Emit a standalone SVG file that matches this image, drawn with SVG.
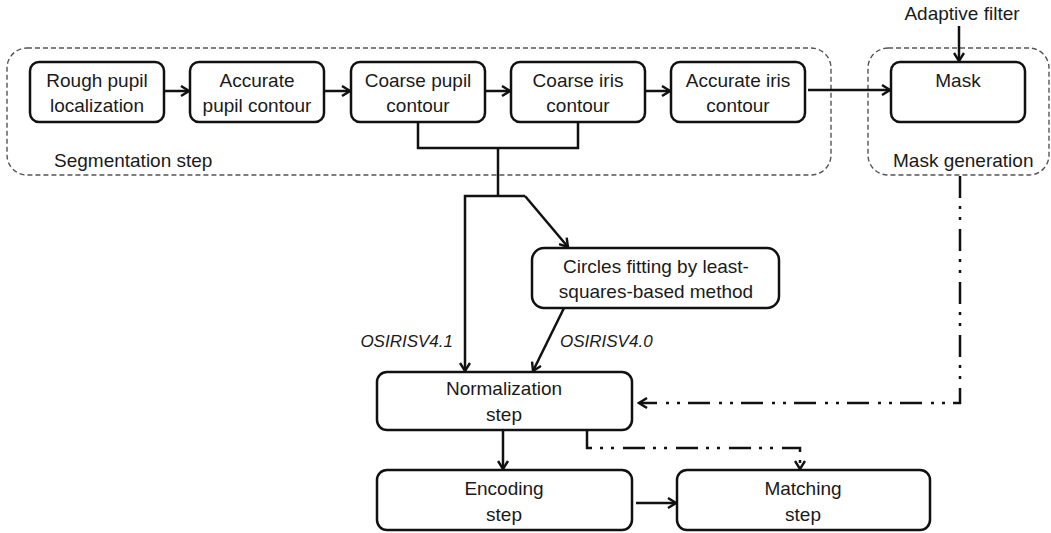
<svg xmlns="http://www.w3.org/2000/svg" width="1051" height="533" viewBox="0 0 1051 533">
  <defs>
    <marker id="arr" markerWidth="12" markerHeight="12" refX="10" refY="6" orient="auto" markerUnits="userSpaceOnUse">
      <path d="M2,1 L10,6 L2,11" fill="none" stroke="#111" stroke-width="2.4" stroke-linejoin="miter"/>
    </marker>
    <style>
      .box{fill:#fff;stroke:#111;stroke-width:2.5}
      .cont{fill:none;stroke:#555;stroke-width:1.4;stroke-dasharray:5 3}
      .t{font-family:"Liberation Sans",Arial,sans-serif;font-size:19px;fill:#1a1a1a;text-anchor:middle}
      .ts{font-family:"Liberation Sans",Arial,sans-serif;font-size:19px;fill:#1a1a1a}
      .it{font-family:"Liberation Sans",Arial,sans-serif;font-size:17px;font-style:italic;fill:#1a1a1a}
      .ln{fill:none;stroke:#111;stroke-width:2.5}
      .dd{fill:none;stroke:#111;stroke-width:2.5;stroke-dasharray:22 8 3 8 3 9}
    </style>
  </defs>

  <g id="segmentation-step">
    <rect class="cont" x="7" y="48" width="824" height="127" rx="20"/>
    <text class="ts" x="54" y="167">Segmentation step</text>
  </g>
  <g id="mask-generation">
    <rect class="cont" x="868" y="48" width="181" height="127" rx="20"/>
    <text class="ts" x="893" y="167">Mask generation</text>
  </g>

  <g id="rough-pupil">
    <rect class="box" x="30" y="62" width="134" height="60" rx="9"/>
    <text class="t" x="97" y="87">Rough pupil</text>
    <text class="t" x="97" y="112">localization</text>
  </g>
  <g id="accurate-pupil">
    <rect class="box" x="190" y="62" width="134" height="60" rx="9"/>
    <text class="t" x="257" y="87">Accurate</text>
    <text class="t" x="257" y="112">pupil contour</text>
  </g>
  <g id="coarse-pupil">
    <rect class="box" x="351" y="62" width="134" height="60" rx="9"/>
    <text class="t" x="418" y="87">Coarse pupil</text>
    <text class="t" x="418" y="112">contour</text>
  </g>
  <g id="coarse-iris">
    <rect class="box" x="511" y="62" width="134" height="60" rx="9"/>
    <text class="t" x="578" y="87">Coarse iris</text>
    <text class="t" x="578" y="112">contour</text>
  </g>
  <g id="accurate-iris">
    <rect class="box" x="671" y="62" width="134" height="60" rx="9"/>
    <text class="t" x="738" y="87">Accurate iris</text>
    <text class="t" x="738" y="112">contour</text>
  </g>
  <g id="mask">
    <rect class="box" x="891" y="62" width="134" height="60" rx="9"/>
    <text class="t" x="958" y="87">Mask</text>
  </g>
  <g id="adaptive-filter">
    <text class="t" x="962" y="20">Adaptive filter</text>
  </g>
  <g id="circles-fitting">
    <rect class="box" x="532" y="248" width="247" height="60" rx="12"/>
    <text class="t" x="656" y="273">Circles fitting by least-</text>
    <text class="t" x="656" y="298">squares-based method</text>
  </g>
  <g id="normalization">
    <rect class="box" x="377" y="372" width="255" height="58" rx="10"/>
    <text class="t" x="504" y="395">Normalization</text>
    <text class="t" x="504" y="421">step</text>
  </g>
  <g id="encoding">
    <rect class="box" x="377" y="470" width="255" height="60" rx="10"/>
    <text class="t" x="504" y="495">Encoding</text>
    <text class="t" x="504" y="521">step</text>
  </g>
  <g id="matching">
    <rect class="box" x="677" y="470" width="253" height="60" rx="10"/>
    <text class="t" x="803" y="495">Matching</text>
    <text class="t" x="803" y="521">step</text>
  </g>

  <g id="connectors">
    <line class="ln" x1="164" y1="91" x2="189" y2="91" marker-end="url(#arr)"/>
    <line class="ln" x1="324" y1="91" x2="350" y2="91" marker-end="url(#arr)"/>
    <line class="ln" x1="485" y1="91" x2="510" y2="91" marker-end="url(#arr)"/>
    <line class="ln" x1="645" y1="91" x2="670" y2="91" marker-end="url(#arr)"/>
    <line class="ln" x1="808" y1="90" x2="890" y2="90" marker-end="url(#arr)"/>
    <line class="ln" x1="959" y1="26" x2="959" y2="61" marker-end="url(#arr)"/>
    <polyline class="ln" points="418,122 418,148 578,148 578,122"/>
    <line class="ln" x1="498" y1="148" x2="498" y2="196"/>
    <polyline class="ln" points="525,196 465,196 465,371" marker-end="url(#arr)"/>
    <line class="ln" x1="525" y1="196" x2="568" y2="247" marker-end="url(#arr)"/>
    <line class="ln" x1="564" y1="308" x2="533" y2="371" marker-end="url(#arr)"/>
    <line class="ln" x1="503" y1="430" x2="503" y2="469" marker-end="url(#arr)"/>
    <line class="ln" x1="636" y1="503" x2="676" y2="503" marker-end="url(#arr)"/>
    <polyline class="dd" points="960,176 960,403 639,403" marker-end="url(#arr)"/>
    <polyline class="dd" points="587,431 587,448 800,448 800,469" marker-end="url(#arr)"/>
    <text class="it" x="453" y="347" text-anchor="end">OSIRISV4.1</text>
    <text class="it" x="560" y="347">OSIRISV4.0</text>
  </g>
</svg>
